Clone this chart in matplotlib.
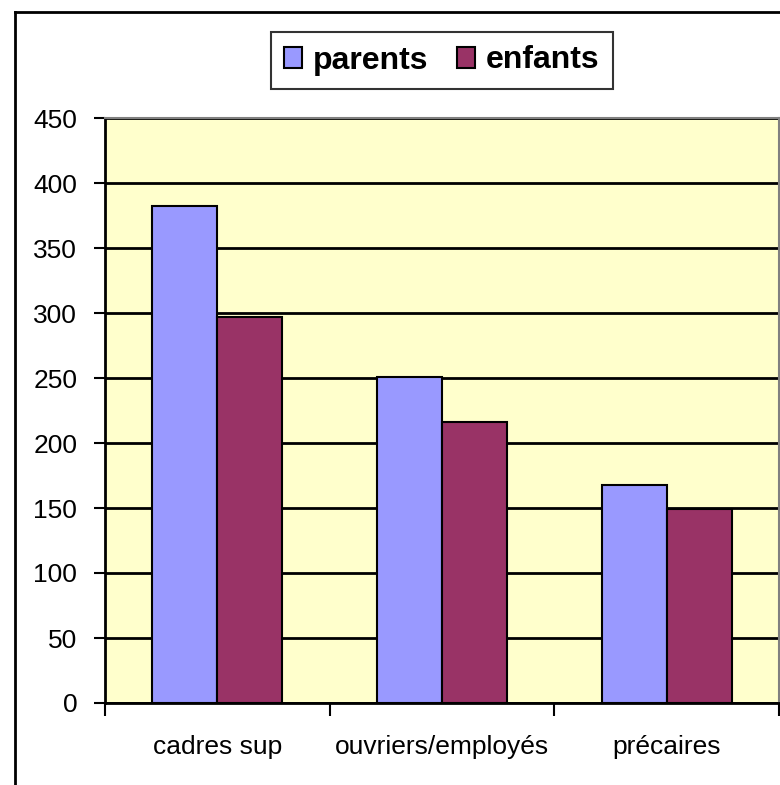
import numpy as np
import matplotlib
matplotlib.use("Agg")
import matplotlib.pyplot as plt
from matplotlib.lines import Line2D

plt.rcParams['font.family'] = ['Liberation Sans', 'DejaVu Sans']

# data
categories = ["cadres sup", "ouvriers/employés", "précaires"]
parents = [382, 251, 168]
enfants = [297, 216, 149]
series_names = ["parents", "enfants"]
y_ticks = np.arange(0, 451, 50)

W, H = 780, 785
fig = plt.figure(figsize=(W / 100, H / 100), dpi=100)
fig.patch.set_facecolor("white")

# plot area in pixels
left, right, top, bottom = 105, 779, 118, 703
ax = fig.add_axes([left / W, 1 - bottom / H, (right - left) / W, (bottom - top) / H])
ax.set_facecolor("#FFFFCC")

x = np.arange(len(categories)) + 0.5
bw = 0.29
ax.bar(x - bw / 2, parents, bw, color="#9999FF", edgecolor="black", linewidth=1.5,
       label=series_names[0], zorder=3)
ax.bar(x + bw / 2, enfants, bw, color="#993366", edgecolor="black", linewidth=1.5,
       label=series_names[1], zorder=3)

ax.set_xlim(0, len(categories))
ax.set_ylim(0, 450)
ax.set_yticks(y_ticks)
ax.yaxis.grid(True, color="black", linewidth=2, zorder=1)
ax.set_axisbelow(True)

# category ticks at boundaries, labels at centres
ax.set_xticks(np.arange(len(categories) + 1))
ax.set_xticklabels([])
ax.set_xticks(x, minor=True)
ax.set_xticklabels(categories, minor=True)
ax.tick_params(axis="x", which="major", length=9, width=1.5, direction="out")
ax.tick_params(axis="x", which="minor", length=0, pad=23, labelsize=19)
ax.tick_params(axis="y", length=8, width=1.5, direction="out", pad=12, labelsize=19)

for s in ["top", "right"]:
    ax.spines[s].set_color("#808080")
    ax.spines[s].set_linewidth(1.5)
for s in ["left", "bottom"]:
    ax.spines[s].set_color("black")
    ax.spines[s].set_linewidth(2)

leg = fig.legend(loc="center", bbox_to_anchor=(442 / W, 1 - 60.5 / H), ncol=2,
                 fancybox=False, shadow=False, frameon=True,
                 prop={"weight": "bold", "size": 23},
                 handlelength=0.55, handleheight=0.65, handletextpad=0.35,
                 columnspacing=0.9, borderpad=0.42, borderaxespad=0)
leg.get_frame().set_edgecolor("black")
leg.get_frame().set_linewidth(1.5)

# outer chart frame
fig.add_artist(Line2D([15 / W, 15 / W], [0, 1 - 12 / H], color="black", linewidth=2,
                      transform=fig.transFigure))
fig.add_artist(Line2D([15 / W, 1], [1 - 12 / H, 1 - 12 / H], color="black", linewidth=2,
                      transform=fig.transFigure))

fig.savefig("out.png", dpi=100)
